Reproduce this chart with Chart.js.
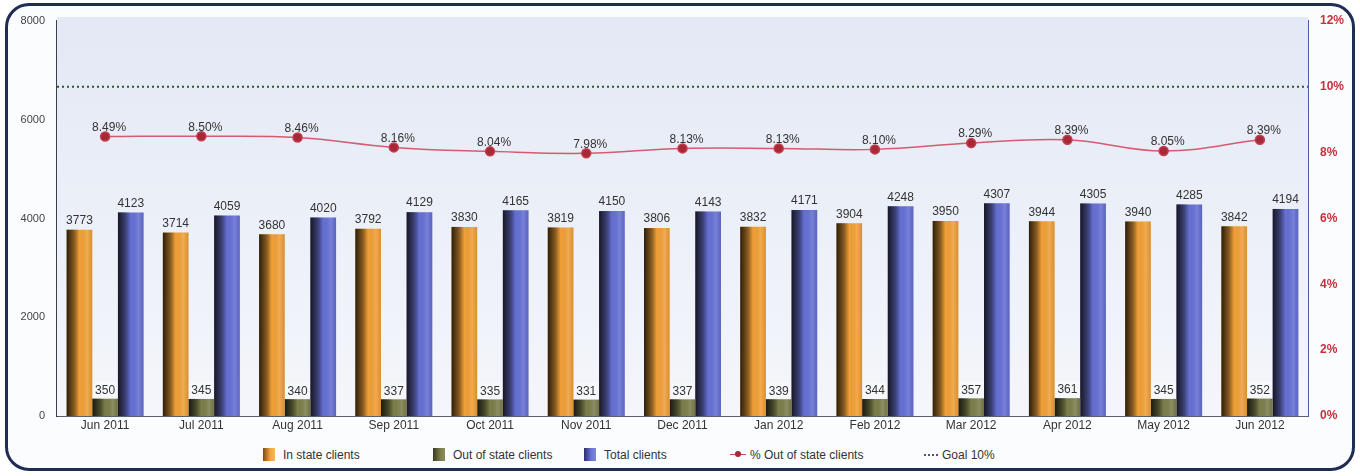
<!DOCTYPE html>
<html lang="en">
<head>
  <meta charset="UTF-8">
  <title>Clients</title>
  <script src="https://cdn.jsdelivr.net/npm/chart.js"></script>
  <style>
    body { margin: 0; width: 1360px; height: 476px; background: #ffffff; font-family: "Liberation Sans", Arial, sans-serif; }
    .frame { position: absolute; left: 5px; top: 3px; width: 1344px; height: 462px; border: 3px solid #1f2d55; border-radius: 24px; background: #fbfcfe; overflow: hidden; }
    .chart-box { position: absolute; left: 0; top: 0; width: 1344px; height: 438px; }
    .legend { position: absolute; top: 442px; left: 0; width: 1344px; font-size: 12px; color: #333; }
    .legend span.item { position: absolute; white-space: nowrap; }
    .sw { display: inline-block; width: 12px; height: 13px; vertical-align: -2px; margin-right: 8px; }
  </style>
</head>
<body>
  <div class="frame">
    <div class="chart-box"><canvas id="clientsChart"></canvas></div>
    <div class="legend">
      <span class="item" style="left:255px"><span class="sw" style="background:linear-gradient(90deg,#7a4c10,#f2a33c 60%,#f6b860)"></span>In state clients</span>
      <span class="item" style="left:425px"><span class="sw" style="background:linear-gradient(90deg,#3a3a20,#7b7c4c 60%,#8a8c5a)"></span>Out of state clients</span>
      <span class="item" style="left:576px"><span class="sw" style="background:linear-gradient(90deg,#2a2f6a,#6a74d6 60%,#7c86e0)"></span>Total clients</span>
      <span class="item" style="left:722px"><span style="display:inline-block;position:relative;width:16px;height:10px;margin-right:4px;">
        <span style="position:absolute;left:0;top:5px;width:16px;height:1px;background:#c84a5a"></span>
        <span style="position:absolute;left:5px;top:2px;width:6px;height:6px;border-radius:50%;background:#a82838"></span></span>% Out of state clients</span>
      <span class="item" style="left:916px"><span style="display:inline-block;width:14px;border-top:2px dotted #556;vertical-align:3px;margin-right:4px"></span>Goal 10%</span>
    </div>
  </div>

  <script>
    const months = ['Jun 2011', 'Jul 2011', 'Aug 2011', 'Sep 2011', 'Oct 2011', 'Nov 2011', 'Dec 2011',
                    'Jan 2012', 'Feb 2012', 'Mar 2012', 'Apr 2012', 'May 2012', 'Jun 2012'];
    const inState = [3773, 3714, 3680, 3792, 3830, 3819, 3806, 3832, 3904, 3950, 3944, 3940, 3842];
    const outOfState = [350, 345, 340, 337, 335, 331, 337, 339, 344, 357, 361, 345, 352];
    const totalClients = [4123, 4059, 4020, 4129, 4165, 4150, 4143, 4171, 4248, 4307, 4305, 4285, 4194];
    const pctOutOfState = [8.49, 8.50, 8.46, 8.16, 8.04, 7.98, 8.13, 8.13, 8.10, 8.29, 8.39, 8.05, 8.39];
    const goal = 10;
    const leftTicks = [0, 2000, 4000, 6000, 8000];
    const rightTicks = [0, 2, 4, 6, 8, 10, 12];

    const FONT = '"Liberation Sans", Arial, sans-serif';

    // plot background + goal line
    const backdrop = {
      id: 'backdrop',
      beforeDatasetsDraw(chart) {
        const { ctx, chartArea: a } = chart;
        const g = ctx.createLinearGradient(0, a.top, 0, a.bottom);
        g.addColorStop(0, '#e3e9f5');
        g.addColorStop(1, '#f4f6fb');
        ctx.save();
        ctx.fillStyle = g;
        ctx.fillRect(a.left, a.top - 4, a.right - a.left, a.bottom - a.top + 4);
        const y = chart.scales.y1.getPixelForValue(goal);
        ctx.strokeStyle = '#2f5a2a';
        ctx.lineWidth = 2;
        ctx.setLineDash([2, 3]);
        ctx.beginPath();
        ctx.moveTo(a.left, y);
        ctx.lineTo(a.right, y);
        ctx.stroke();
        ctx.restore();
      }
    };

    // shade bars so they look cylindrical, then label them
    const barShade = {
      id: 'barShade',
      afterDatasetDraw(chart, args) {
        const ds = chart.data.datasets[args.index];
        const { ctx } = chart;
        ctx.save();
        if (ds.type === 'line') {
          ctx.font = '12px ' + FONT;
          ctx.fillStyle = '#333';
          ctx.textAlign = 'center';
          ctx.textBaseline = 'bottom';
          args.meta.data.forEach((p, i) => {
            ctx.fillText(ds.data[i].toFixed(2) + '%', p.x + 4, p.y - 3);
          });
          ctx.restore();
          return;
        }
        args.meta.data.forEach((b, i) => {
          const x0 = b.x - b.width / 2, x1 = b.x + b.width / 2;
          const g = ctx.createLinearGradient(x0, 0, x1, 0);
          g.addColorStop(0, 'rgba(10,8,5,0.85)');
          g.addColorStop(0.3, 'rgba(10,8,5,0.45)');
          g.addColorStop(0.5, 'rgba(0,0,0,0.0)');
          g.addColorStop(0.8, 'rgba(255,255,255,0.12)');
          g.addColorStop(1, 'rgba(0,0,0,0.1)');
          ctx.fillStyle = g;
          ctx.fillRect(x0, b.y, b.width, b.base - b.y);
        });
        ctx.font = '12px ' + FONT;
        ctx.textAlign = 'center';
        ctx.textBaseline = 'bottom';
        args.meta.data.forEach((b, i) => {
          const txt = String(ds.data[i]);
          if (ds.boxedLabel) {
            const w = ctx.measureText(txt).width + 4;
            ctx.fillStyle = '#f7f8fb';
            ctx.fillRect(b.x - w / 2, b.y - 17, w, 16);
            ctx.fillStyle = '#333';
            ctx.fillText(txt, b.x, b.y - 2);
          } else {
            ctx.fillStyle = '#333';
            ctx.fillText(txt, b.x, b.y - 3);
          }
        });
        ctx.restore();
      }
    };

    new Chart(document.getElementById('clientsChart'), {
      data: {
        labels: months,
        datasets: [
          { type: 'line', label: '% Out of state clients', data: pctOutOfState, yAxisID: 'y1', order: 0,
            borderColor: '#d65a70', borderWidth: 1.5, tension: 0.4, pointRadius: 4.5,
            pointBackgroundColor: '#a82838', pointBorderColor: '#c04050' },
          { type: 'bar', label: 'In state clients', data: inState, yAxisID: 'y', order: 1,
            backgroundColor: '#f0a038' },
          { type: 'bar', label: 'Out of state clients', data: outOfState, yAxisID: 'y', order: 2,
            backgroundColor: '#7d7e4c', boxedLabel: true },
          { type: 'bar', label: 'Total clients', data: totalClients, yAxisID: 'y', order: 3,
            backgroundColor: '#6670d4' }
        ]
      },
      options: {
        responsive: true,
        maintainAspectRatio: false,
        animation: false,
        layout: { padding: { top: 15, left: 0, right: 0 } },
        datasets: { bar: { categoryPercentage: 0.8, barPercentage: 1.0 } },
        plugins: { legend: { display: false }, tooltip: { enabled: false } },
        scales: {
          x: {
            grid: { display: false, drawTicks: false },
            border: { color: '#5a6070', width: 2 },
            ticks: { color: '#333', font: { family: FONT, size: 12 }, padding: 2, maxRotation: 0 },
            afterFit(s) { s.height = 28; }
          },
          y: {
            position: 'left', min: 0, max: 8000,
            afterBuildTicks(s) { s.ticks = leftTicks.map(v => ({ value: v })); },
            grid: { display: false },
            border: { color: '#3a3f4c', width: 2 },
            ticks: { color: '#444', font: { family: FONT, size: 11 }, padding: 4, callback: v => String(v) },
            afterFit(s) { s.width = 49; }
          },
          y1: {
            position: 'right', min: 0, max: 12,
            afterBuildTicks(s) { s.ticks = rightTicks.map(v => ({ value: v })); },
            grid: { display: false },
            border: { color: '#4a5cb0', width: 2 },
            ticks: { color: '#c8303c', font: { family: FONT, size: 12, weight: 'bold' }, padding: 4,
                     callback: v => v + '%' },
            afterFit(s) { s.width = 44; }
          }
        }
      },
      plugins: [backdrop, barShade]
    });
  </script>
</body>
</html>
